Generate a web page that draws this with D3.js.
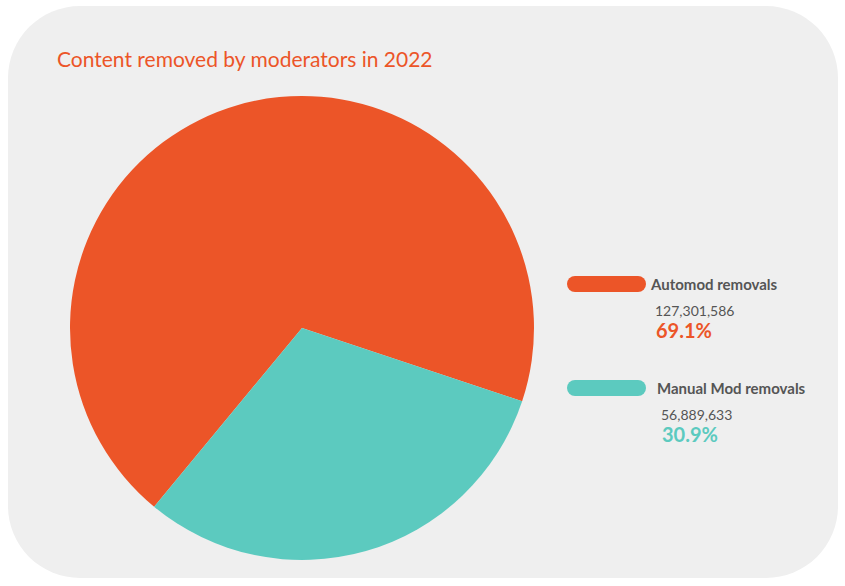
<!DOCTYPE html>
<html><head><meta charset="utf-8">
<script src="https://cdn.jsdelivr.net/npm/d3@7"></script>
<style>body{margin:0;background:#fff}svg{display:block}text{font-family:Lato,"Open Sans",sans-serif}</style>
</head><body><svg id="c" width="845" height="586"></svg>
<script>
const categories = ["Automod removals", "Manual Mod removals"];
const counts = [127301586, 56889633];
const percents = ["69.1%", "30.9%"];
const colors = ["#ec5528", "#5ccabf"];

const svg = d3.select("#c");
svg.append("rect").attr("x",8).attr("y",6).attr("width",830).attr("height",572).attr("rx",72).attr("fill","#efefef");
svg.append("text").attr("x",57).attr("y",67).attr("font-size",21).attr("fill","#ec5528").text("Content removed by moderators in 2022");

const start = 219.6*Math.PI/180;
const pie = d3.pie().sort(null).startAngle(start).endAngle(start+2*Math.PI);
const arc = d3.arc().innerRadius(0).outerRadius(232);
const g = svg.append("g").attr("transform","translate(302,328)");
g.selectAll("path").data(pie(counts)).join("path").attr("d",arc).attr("fill",(d,i)=>colors[i]);

const fmt = d3.format(",");
const ly = [284, 388];
const lx = [651, 657];
categories.forEach((c,i)=>{
  const lg = svg.append("g");
  lg.append("rect").attr("x",567).attr("y",ly[i]-8).attr("width",79).attr("height",16).attr("rx",8).attr("fill",colors[i]);
  lg.append("text").attr("x",lx[i]).attr("y",ly[i]+6).attr("font-size",15).attr("font-weight","bold").attr("fill","#555").text(c);
  lg.append("text").attr("x",lx[i]+4).attr("y",ly[i]+32).attr("font-size",14).attr("fill","#555").text(fmt(counts[i]));
  lg.append("text").attr("x",lx[i]+5).attr("y",ly[i]+54).attr("font-size",20).attr("font-weight","bold").attr("fill",colors[i]).text(percents[i]);
});
</script></body></html>
